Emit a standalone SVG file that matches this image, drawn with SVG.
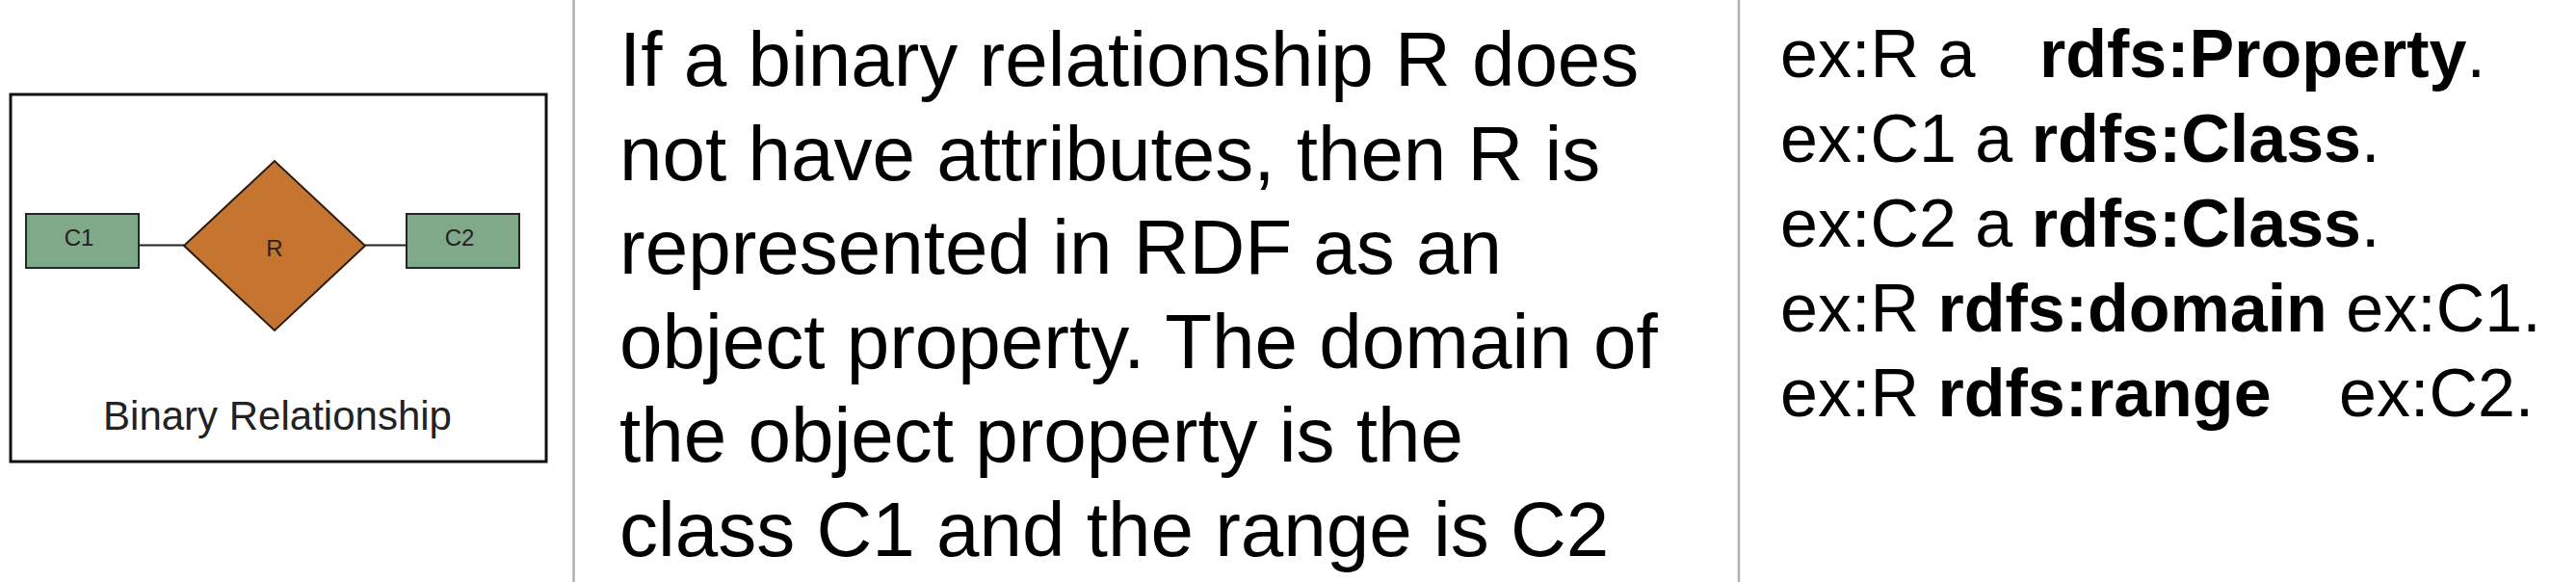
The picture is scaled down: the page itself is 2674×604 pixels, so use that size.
<svg xmlns="http://www.w3.org/2000/svg" width="2674" height="604" viewBox="0 0 2674 604">
<style>
.sep{stroke:#b0b0b0;stroke-width:2.5}
.cls{fill:#80a98a;stroke:#1f2a22;stroke-width:2}
.rel{fill:#c5752f;stroke:#2a1a10;stroke-width:2}
.conn{stroke:#222;stroke-width:1.8;fill:none}
.lbl{font-family:"Liberation Sans",Arial,sans-serif;fill:#222;text-anchor:middle}
.big{font-family:"Liberation Sans",Arial,sans-serif;font-size:80px;fill:#000}
.code{font-family:"Liberation Sans",Arial,sans-serif;font-size:70px;fill:#000}
.b{font-weight:bold}
</style>
<rect width="2674" height="604" fill="#ffffff"/>
<line class="sep" x1="595.5" y1="0" x2="595.5" y2="604"/>
<line class="sep" x1="1805" y1="0" x2="1805" y2="604"/>
<g id="frame">
<rect x="11" y="98" width="556" height="381" fill="#ffffff" stroke="#111" stroke-width="3"/>
<text class="lbl" x="288" y="446" font-size="42">Binary Relationship</text>
</g>
<g id="connectors">
<line class="conn" x1="144" y1="254.5" x2="191" y2="254.5"/>
<line class="conn" x1="379" y1="254.5" x2="422" y2="254.5"/>
</g>
<g id="C1">
<rect class="cls" x="27" y="222" width="117" height="56"/>
<text class="lbl" x="82" y="255" font-size="24">C1</text>
</g>
<g id="R">
<polygon class="rel" points="191,255 285,167 379,255 285,343"/>
<text class="lbl" x="285" y="266" font-size="24">R</text>
</g>
<g id="C2">
<rect class="cls" x="422" y="222" width="117" height="56"/>
<text class="lbl" x="477" y="255" font-size="24">C2</text>
</g>
<g id="description">
<text class="big" x="643" y="89">If a binary relationship R does</text>
<text class="big" x="643" y="187">not have attributes, then R is</text>
<text class="big" x="643" y="284">represented in RDF as an</text>
<text class="big" x="643" y="382">object property. The domain of</text>
<text class="big" x="643" y="479">the object property is the</text>
<text class="big" x="643" y="577">class C1 and the range is C2</text>
</g>
<g id="rdf">
<text class="code" x="1848" y="80">ex:R a<tspan class="b" x="2117">rdfs:Property</tspan>.</text>
<text class="code" x="1848" y="168">ex:C1 a <tspan class="b">rdfs:Class</tspan>.</text>
<text class="code" x="1848" y="256">ex:C2 a <tspan class="b">rdfs:Class</tspan>.</text>
<text class="code" x="1848" y="344">ex:R <tspan class="b">rdfs:domain</tspan> ex:C1.</text>
<text class="code" x="1848" y="432">ex:R <tspan class="b">rdfs:range</tspan><tspan x="2428">ex:C2.</tspan></text>
</g>
</svg>
